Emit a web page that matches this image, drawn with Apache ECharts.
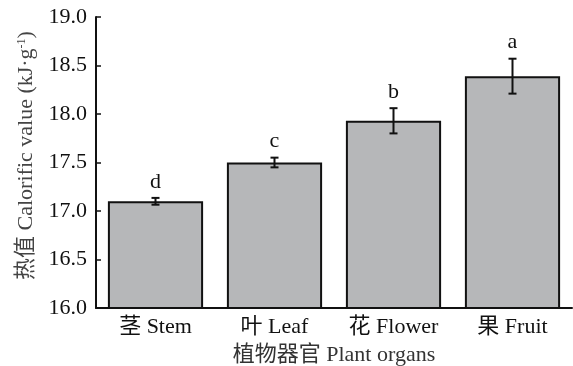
<!DOCTYPE html>
<html>
<head>
<meta charset="utf-8">
<script src="https://cdn.jsdelivr.net/npm/echarts@6/dist/echarts.min.js"></script>
<style>
  html, body { margin: 0; padding: 0; background: #fff; }
  #chart { width: 573px; height: 366px; }
</style>
</head>
<body>
<div id="chart"></div>
<script>
// Plant organ calorific values (mean ± SE) with significance letters
const categories = ['茎 Stem', '叶 Leaf', '花 Flower', '果 Fruit'];
const means = [17.10, 17.50, 17.93, 18.39];
const errors = [0.035, 0.05, 0.13, 0.18];
const letters = ['d', 'c', 'b', 'a'];
const yTicks = { min: 16.0, max: 19.0, interval: 0.5 };

const serif = '"Liberation Serif", "Times New Roman", "Noto Sans CJK SC", serif';

const errorData = means.map((m, i) => [i, m - errors[i], m + errors[i], letters[i]]);

const chart = echarts.init(document.getElementById('chart'), null, { renderer: 'canvas' });

chart.setOption({
  animation: false,
  backgroundColor: '#ffffff',
  grid: { left: 96, right: 1, top: 17, bottom: 58, containLabel: false, outerBoundsMode: 'none' },
  xAxis: {
    type: 'category',
    data: categories,
    name: '植物器官 Plant organs',
    nameLocation: 'middle',
    nameGap: 36,
    nameTextStyle: { fontFamily: serif, fontSize: 22, color: '#333' },
    axisLine: { lineStyle: { color: '#111', width: 2 } },
    axisTick: { inside: true, alignWithLabel: true, length: 5, lineStyle: { color: '#111', width: 1.5 } },
    axisLabel: { fontFamily: serif, fontSize: 22, color: '#111', margin: 8 }
  },
  yAxis: {
    type: 'value',
    min: yTicks.min,
    max: yTicks.max,
    interval: yTicks.interval,
    name: '热值 Calorific value (kJ·g{sup|-1})',
    nameLocation: 'middle',
    nameGap: 58,
    nameTextStyle: {
      fontFamily: serif, fontSize: 22, color: '#444',
      padding: [0, 0, 0, 14],
      rich: { sup: { fontFamily: serif, fontSize: 12, color: '#444', padding: [0, 0, 10, 0] } }
    },
    splitLine: { show: false },
    axisLine: { show: true, lineStyle: { color: '#111', width: 2 } },
    axisTick: { show: true, inside: true, length: 5, lineStyle: { color: '#111', width: 1.5 } },
    axisLabel: { fontFamily: serif, fontSize: 22, color: '#111', margin: 9,
      formatter: v => v.toFixed(1) }
  },
  series: [
    {
      type: 'bar',
      data: means,
      barWidth: '80%',
      itemStyle: { color: '#b6b7b9', borderColor: '#111', borderWidth: 2 }
    },
    {
      type: 'custom',
      data: errorData,
      z: 10,
      renderItem: function (params, api) {
        const x = api.value(0);
        const lo = api.coord([x, api.value(1)]);
        const hi = api.coord([x, api.value(2)]);
        const cap = 4;
        const style = { stroke: '#111', lineWidth: 2 };
        return {
          type: 'group',
          children: [
            { type: 'line', shape: { x1: lo[0], y1: lo[1], x2: hi[0], y2: hi[1] }, style },
            { type: 'line', shape: { x1: hi[0] - cap, y1: hi[1], x2: hi[0] + cap, y2: hi[1] }, style },
            { type: 'line', shape: { x1: lo[0] - cap, y1: lo[1], x2: lo[0] + cap, y2: lo[1] }, style },
            {
              type: 'text',
              style: {
                x: hi[0], y: hi[1] - 5,
                text: api.value(3),
                fill: '#111',
                font: '22px ' + serif,
                textAlign: 'center',
                textVerticalAlign: 'bottom'
              }
            }
          ]
        };
      }
    }
  ]
});
</script>
</body>
</html>
